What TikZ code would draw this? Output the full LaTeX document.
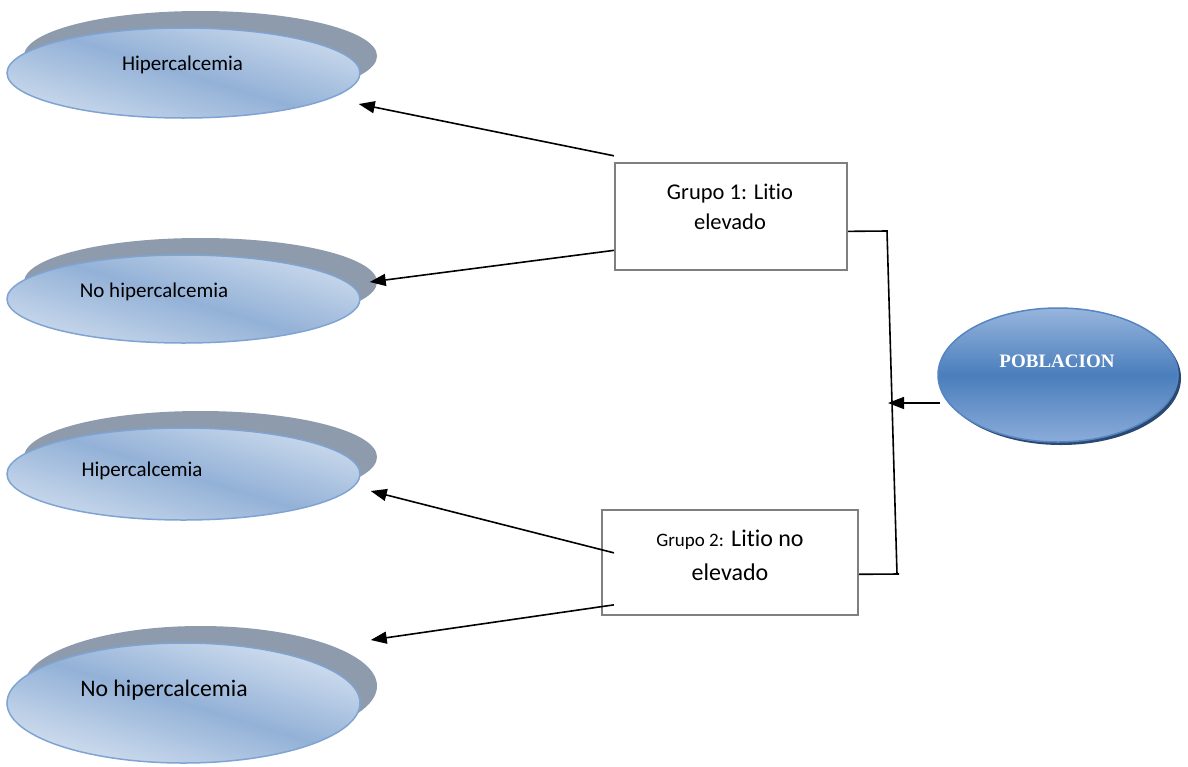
\documentclass[tikz,border=0pt]{standalone}
\usepackage{fontspec}
\setmainfont{Carlito}[Ligatures=NoCommon]
\newfontfamily\headfont{Liberation Serif}
\usetikzlibrary{arrows.meta,shapes.geometric,calc}

\definecolor{ovalLight}{HTML}{CCDBED}
\definecolor{ovalMid}{HTML}{93B1D7}
\definecolor{ovalLine}{HTML}{7FA4D3}
\definecolor{ovalShadow}{HTML}{8D9BAD}
\definecolor{popTop}{HTML}{97B5DD}
\definecolor{popMid}{HTML}{4A7EBC}
\definecolor{popBot}{HTML}{8BACD9}
\definecolor{popEdge}{HTML}{5585C2}
\definecolor{popShadow}{HTML}{2A4870}
\definecolor{boxLine}{HTML}{7F7F7F}

\tikzset{
  outcome/.style={ellipse, minimum width=353pt, minimum height=#1, inner sep=0pt,
    draw=ovalLine, line width=1.5pt,
    preaction={fill=ovalShadow, transform canvas={shift={(17pt,17pt)}}},
    path picture={
      \begin{scope}[transform canvas={rotate around={-17:(path picture bounding box.center)}}]
        \shade[top color=ovalLight, bottom color=ovalLight, middle color=ovalMid]
          ($(path picture bounding box.center)+(-240,-78)$) rectangle
          ($(path picture bounding box.center)+(240,78)$);
      \end{scope}}},
  outcome/.default=90pt,
  outtext/.style={font=\fontsize{#1}{#1}\selectfont, text=black, inner sep=0pt},
  outtext/.default=21,
  group/.style={draw=boxLine, line width=2.2pt, fill=white, inner sep=0pt,
    minimum width=#1, align=center},
  population/.style={ellipse, minimum width=240pt, minimum height=134pt, inner sep=0pt,
    draw=popEdge, line width=1.5pt,
    top color=popTop, bottom color=popBot, middle color=popMid,
    preaction={fill=popShadow, transform canvas={shift={(3pt,-3pt)}}}},
  arrowline/.style={line width=1.6pt, -{Triangle[length=16pt,width=12pt]}},
  busline/.style={line width=1.6pt}
}

\begin{document}
\begin{tikzpicture}[x=1pt,y=-1pt]
\useasboundingbox[fill=white] (0,0) rectangle (1188,766);

% outcome ovals
\node[outcome] (e1) at (183.5,73) {};
\node[outcome=88pt] (e2) at (183.5,299) {};
\node[outcome=92pt] (e3) at (183.5,474) {};
\node[outcome=120pt] (e4) at (183.5,703) {};

\node[outtext] (t1) at (182.5,65) {Hipercalcemia};
\node[outtext] (t2) at (154,292) {No hipercalcemia};
\node[outtext] (t3) at (142,471) {Hipercalcemia};
\node[outtext=23.7] (t4) at (164,690) {No hipercalcemia};

% group boxes
\node[group=232pt, minimum height=107pt] (b1) at (731,216.5) {};
\node[font=\fontsize{22.5}{30}\selectfont, align=center] (g1) at (730,207)
  {Grupo 1: Litio\\elevado};
\node[group=256pt, minimum height=105pt] (b2) at (730,562.5) {};
\node[font=\fontsize{24}{34}\selectfont, align=center] (g2) at (730,555)
  {{\fontsize{19}{34}\selectfont Grupo 2:} Litio no\\elevado};

% population oval
\coordinate (popIn) at (940,403);
\coordinate (busJoin) at (888,403);
\draw[arrowline] (popIn) -- (busJoin);
\node[population] (pop) at (1058,375) {};
\node[font=\headfont\bfseries\fontsize{19}{19}\selectfont, text=white] (pt) at (1057,361) {POBLACION};

% bus joining the two groups
\coordinate (b1out) at ($(b1.north east)!0.636!(b1.south east)$);
\coordinate (b2out) at ($(b2.north east)!0.61!(b2.south east)$);
\coordinate (busTop) at (887,231);
\coordinate (busBot) at (897,574);
\coordinate (busEnd) at (899,574);
\draw[busline] (b1out) -- (busTop) -- (busBot);
\draw[busline] (b2out) -- (busEnd);

% arrows to the outcomes
\coordinate (h1) at ($(e1.east)+(-2,31)$);
\coordinate (h2) at ($(e2.east)+(9,-17)$);
\coordinate (h3) at ($(e3.east)+(10,17)$);
\coordinate (h4) at ($(e4.east)+(10,-63)$);
\draw[arrowline] ($(b1.north west)!-0.056!(b1.south west)$) -- (h1);
\draw[arrowline] ($(b1.north west)!0.81!(b1.south west)$) -- (h2);
\draw[arrowline] ($(b2.north west)!0.41!(b2.south west)+(13,0)$) -- (h3);
\draw[arrowline] ($(b2.north west)!0.895!(b2.south west)+(13,0)$) -- (h4);
\end{tikzpicture}
\end{document}
